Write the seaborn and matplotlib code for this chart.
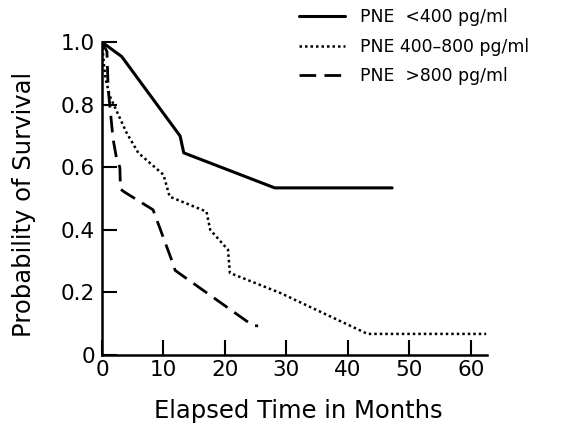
import matplotlib
matplotlib.use("Agg")
import matplotlib.pyplot as plt
import seaborn as sns
import pandas as pd

# Data
low_x = [0, 3.2, 12.7, 13.3, 28.1, 47.2]
low_y = [1.0, 0.954, 0.70, 0.646, 0.534, 0.534]

mid_x = [0, 0.3, 0.6, 1.3, 4.0, 5.9, 10.0, 11.0, 17.0, 17.6, 20.5, 20.8, 29.0, 43.2, 62.5]
mid_y = [1.0, 0.93, 0.88, 0.826, 0.71, 0.646, 0.576, 0.506, 0.458, 0.40, 0.336, 0.262, 0.198, 0.067, 0.067]

high_x = [0, 0.8, 1.0, 1.8, 2.4, 2.9, 3.0, 3.7, 8.3, 11.5, 11.9, 24.6, 25.4]
high_y = [1.0, 0.97, 0.85, 0.69, 0.624, 0.60, 0.53, 0.52, 0.464, 0.294, 0.27, 0.093, 0.093]

labels = ["PNE  <400 pg/ml", "PNE 400\u2013800 pg/ml", "PNE  >800 pg/ml"]
x_ticks = [0, 10, 20, 30, 40, 50, 60]
y_ticks = [0, 0.2, 0.4, 0.6, 0.8, 1.0]
y_tick_labels = ["0", "0.2", "0.4", "0.6", "0.8", "1.0"]

sns.set_theme(style="ticks")
plt.rcParams["font.family"] = ["DejaVu Sans"]
plt.rcParams["text.color"] = "black"
plt.rcParams["axes.labelcolor"] = "black"

fig = plt.figure(figsize=(5.7, 4.26), dpi=100)
ax = fig.add_axes([0.179, 0.167, 0.675, 0.734])

styles = [
    dict(linestyle="-", linewidth=2.2),
    dict(linestyle=(0, (1, 1.2)), linewidth=1.8),
    dict(linestyle=(0, (6, 3)), linewidth=2.0),
]
series = [(low_x, low_y), (mid_x, mid_y), (high_x, high_y)]
for (xs, ys), lab, st in zip(series, labels, styles):
    df = pd.DataFrame({"x": xs, "y": ys})
    sns.lineplot(data=df, x="x", y="y", sort=False, color="black", ax=ax,
                 label=lab, estimator=None, **st)

ax.set_xlim(0, 62.6)
ax.set_ylim(0, 1.0)
ax.set_xticks(x_ticks)
ax.set_xticklabels([str(t) for t in x_ticks])
ax.set_yticks(y_ticks)
ax.set_yticklabels(y_tick_labels)
ax.tick_params(direction="in", length=11, width=1.5, labelsize=15.5, colors="black")
ax.tick_params(axis="x", pad=4)
ax.tick_params(axis="y", pad=5)
for s in ["top", "right"]:
    ax.spines[s].set_visible(False)
for s in ["left", "bottom"]:
    ax.spines[s].set_linewidth(1.8)
    ax.spines[s].set_color("black")

ax.set_xlabel("Elapsed Time in Months", fontsize=17.5)
ax.set_ylabel("Probability of Survival", fontsize=17.5)
ax.xaxis.set_label_coords(0.51, -0.14)
ax.yaxis.set_label_coords(-0.172, 0.48)

ax.legend(loc="upper left", bbox_to_anchor=(292 / 570, 1 - 1 / 426),
          bbox_transform=fig.transFigure, frameon=False, fontsize=12.4,
          handlelength=2.7, labelspacing=0.68, handletextpad=0.85, borderaxespad=0)

fig.savefig("out.png", dpi=100)
